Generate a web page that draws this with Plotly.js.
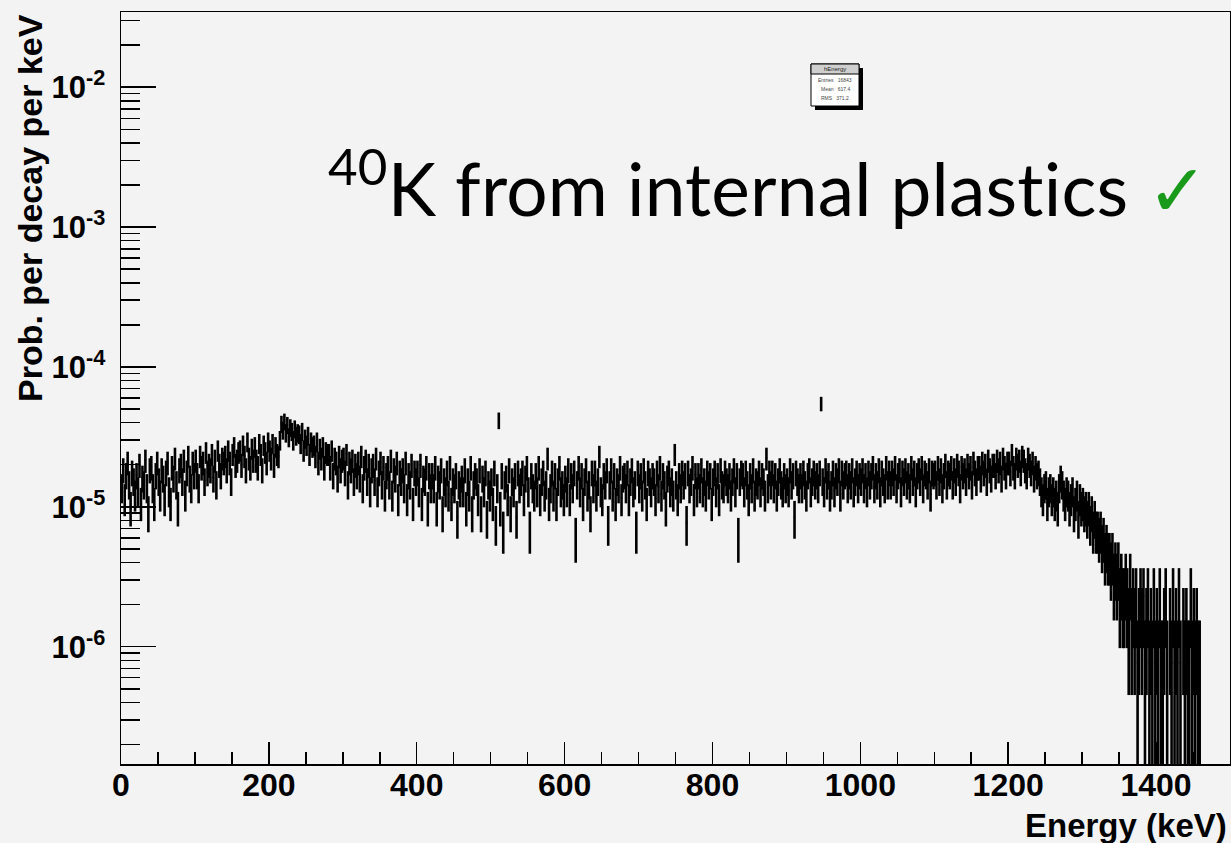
<!DOCTYPE html>
<html><head><meta charset="utf-8">
<script src="https://cdn.plot.ly/plotly-3.0.1.min.js"></script>
<style>html,body{margin:0;padding:0;background:#f3f3f3;} #chart{width:1231px;height:843px;} #chart text, #chart tspan{font-variant-ligatures:none;font-feature-settings:"liga" 0,"clig" 0,"calt" 0,"dlig" 0;}</style>
</head><body><div id="chart"></div>
<script>
// ---------------- data ----------------
const binLowEdgeKeV = 0;
const binWidthKeV = 2;
const probPerCount = 7.7e-7;   // probability per decay per keV represented by one count
const counts = [
18,24,15,22,27,19,13,23,20,16,
22,17,26,14,21,19,28,18,12,24,
25,18,14,22,27,20,16,24,21,15,
23,27,17,14,25,21,29,19,13,24,
26,20,28,16,23,30,21,18,27,22,
28,22,18,30,25,27,20,32,23,26,
24,31,21,28,19,33,26,22,29,27,
30,24,33,27,20,31,35,26,28,32,
33,26,36,30,24,38,29,25,34,28,
35,28,25,37,31,24,36,32,27,38,
33,29,37,26,35,31,30,39,51,46,
53,44,50,41,48,45,39,47,42,44,
43,37,45,33,40,36,42,31,38,35,
36,30,38,27,34,29,35,25,32,31,
31,25,33,22,29,27,21,30,24,28,
29,23,31,19,27,24,28,20,26,22,
27,21,30,18,25,28,20,26,17,24,
26,20,29,17,23,27,19,25,16,22,
25,19,28,16,24,21,27,15,23,20,
24,18,27,15,22,19,26,14,23,20,
23,17,26,14,21,20,25,13,22,18,
22,18,25,13,21,19,24,12,20,17,
23,16,25,14,20,18,22,11,19,17,
21,17,24,13,20,16,25,12,19,22,
20,15,24,12,21,17,23,11,19,16,
20,14,23,10,18,54,13,22,9,19,
21,15,24,12,20,17,22,11,23,18,
20,23,15,21,25,17,9,22,18,16,
22,17,25,15,20,23,16,19,29,14,
18,23,16,22,14,20,25,17,19,15,
21,17,24,15,22,18,23,8,19,25,
17,22,14,20,24,16,19,12,23,18,
23,16,20,30,17,15,22,19,24,10,
19,24,16,22,14,20,18,25,15,21,
22,18,23,15,20,24,17,19,9,23,
18,22,16,24,19,14,23,20,17,22,
20,15,23,18,25,16,22,19,13,21,
23,17,20,16,31,19,15,22,18,23,
19,22,10,23,18,20,25,15,22,17,
22,18,24,17,20,16,23,19,22,14,
20,23,17,22,15,24,19,18,23,20,
18,22,16,20,24,17,22,8,20,23,
22,17,23,19,15,22,18,24,16,20,
19,23,17,22,20,16,29,18,23,19,
23,18,22,16,20,24,19,17,22,18,
20,17,24,19,22,11,23,20,18,22,
18,23,19,16,22,24,17,20,23,19,
22,18,23,71,20,17,24,19,22,16,
19,23,17,22,20,24,16,23,19,22,
23,18,22,19,24,17,20,23,18,22,
20,24,18,22,17,23,19,22,25,18,
22,19,24,17,23,20,18,25,19,23,
19,23,20,25,18,22,24,17,23,20,
24,19,22,18,25,20,23,17,22,24,
20,25,18,23,22,19,24,16,23,22,
23,19,25,20,24,18,22,26,19,23,
22,25,19,24,20,26,23,18,25,22,
24,20,26,22,25,19,27,23,20,25,
25,21,27,23,26,20,28,24,21,26,
26,22,28,24,27,21,29,25,22,27,
27,23,31,25,22,29,26,28,23,30,
28,24,22,29,26,23,27,21,25,22,
23,20,17,15,18,19,14,17,18,15,
17,14,16,13,18,21,19,16,14,17,
16,13,15,17,12,14,16,11,15,13,
14,12,13,11,13,10,12,9,11,9,
9,8,9,7,8,6,7,6,6,5,
6,4,5,4,5,3,4,3,3,4,
3,2,4,2,3,2,3,1,2,3,
2,3,1,2,3,1,2,1,3,1,
2,1,3,1,1,2,3,1,0,2,
1,3,1,2,1,3,1,0,2,1,
2,1,1,3,1,2,1,2,1,1
];
const xMajorTicks = [0,200,400,600,800,1000,1200,1400];
const xMajorLabels = ['0','200','400','600','800','1000','1200','1400'];
const yMajorTicks = [1e-6,1e-5,1e-4,1e-3,1e-2];
const yMajorLabels = ['10<sup>-6</sup>','10<sup>-5</sup>','10<sup>-4</sup>','10<sup>-3</sup>','10<sup>-2</sup>'];
const xTitle = 'Energy (keV)';
const yTitle = 'Prob. per decay per keV';
const noteText = '<span style="letter-spacing:0.2px"><sup>40</sup>K from internal plastics </span><span style="color:#1a9a1a">✓</span>';
const statsTitle = 'hEnergy';
const statsLines = ['Entries   16843','Mean   617.4','RMS   371.2'];

// ---------------- build ----------------
const xs = [], ys = [], errs = [];
counts.forEach((n, i) => {
  xs.push(binLowEdgeKeV + (i + 0.5) * binWidthKeV);
  ys.push(n > 0 ? n * probPerCount : null);
  errs.push(Math.sqrt(n) * probPerCount);
});

const L = 121, T = 12, W = 1109, H = 752;
const px = x => (x - L) / W;
const py = y => (T + H - y) / H;

const yMinor = [];
for (let d = -7; d <= -2; d++) for (let k = 2; k <= 9; k++) yMinor.push(k * Math.pow(10, d));
const xMinor = [];
for (let v = 50; v <= 1450; v += 50) if (v % 200 !== 0) xMinor.push(v);

const bold = {family: 'Liberation Sans, Arial, sans-serif', color: 'black', weight: 'bold'};

const trace = {
  type: 'scatter', mode: 'markers', x: xs, y: ys,
  marker: {size: 1, color: 'black'},
  error_y: {type: 'data', array: errs, symmetric: true, color: 'black', thickness: 2.6, width: 0},
  error_x: {type: 'constant', value: binWidthKeV / 2, color: 'black', thickness: 2.2, width: 0},
  hoverinfo: 'skip'
};

const shapes = [
  {type: 'rect', xref: 'paper', yref: 'paper', x0: px(815), x1: px(863), y0: py(110), y1: py(68), fillcolor: 'black', line: {width: 0}},
  {type: 'rect', xref: 'paper', yref: 'paper', x0: px(811), x1: px(859), y0: py(106), y1: py(64), fillcolor: 'white', line: {color: 'black', width: 1}},
  {type: 'rect', xref: 'paper', yref: 'paper', x0: px(811), x1: px(859), y0: py(74), y1: py(64), fillcolor: '#cfcfcf', line: {color: 'black', width: 1}}
];

const annotations = [
  {text: yTitle, textangle: -90, xref: 'paper', yref: 'paper', x: px(30), y: 1, xanchor: 'center', yanchor: 'top',
   showarrow: false, font: Object.assign({size: 34}, bold)},
  {text: xTitle, xref: 'paper', yref: 'paper', x: px(1229), y: py(825), xanchor: 'right', yanchor: 'middle',
   showarrow: false, font: Object.assign({size: 33}, bold)},
  {text: noteText, xref: 'paper', yref: 'paper', x: px(1210), y: py(184), xanchor: 'right', yanchor: 'middle',
   showarrow: false, font: {family: 'Lato, Open Sans, sans-serif', size: 73, color: 'black'}},
  {text: statsTitle, xref: 'paper', yref: 'paper', x: px(835), y: py(69), xanchor: 'center', yanchor: 'middle',
   showarrow: false, font: {family: 'Liberation Sans', size: 6, color: '#222'}}
];
statsLines.forEach((s, i) => annotations.push({
  text: s, xref: 'paper', yref: 'paper', x: px(835), y: py(80 + i * 9), xanchor: 'center', yanchor: 'middle',
  showarrow: false, font: {family: 'Liberation Sans', size: 5, color: '#444'}
}));

const layout = {
  width: 1231, height: 843,
  paper_bgcolor: '#f3f3f3', plot_bgcolor: '#f3f3f3',
  margin: {l: L, r: 1231 - L - W, t: T, b: 843 - T - H},
  showlegend: false,
  xaxis: {
    range: [0, 1500], showgrid: false, zeroline: false,
    showline: true, linecolor: 'black', linewidth: 1.5, mirror: true,
    ticks: 'inside', ticklen: 22, tickwidth: 1.5, tickcolor: 'black',
    tickmode: 'array', tickvals: xMajorTicks, ticktext: xMajorLabels,
    tickfont: Object.assign({size: 32}, bold), ticklabelstandoff: -8,
    minor: {ticks: 'inside', ticklen: 12, tickwidth: 1.5, tickcolor: 'black', tickmode: 'array', tickvals: xMinor, showgrid: false}
  },
  yaxis: {
    type: 'log', range: [Math.log10(1.45e-7), Math.log10(0.0345)], showgrid: false, zeroline: false,
    showline: true, linecolor: 'black', linewidth: 1.5, mirror: true,
    ticks: 'inside', ticklen: 35, tickwidth: 1.5, tickcolor: 'black',
    tickmode: 'array', tickvals: yMajorTicks, ticktext: yMajorLabels,
    tickfont: Object.assign({size: 31}, bold), ticklabelstandoff: 8,
    minor: {ticks: 'inside', ticklen: 19, tickwidth: 1.5, tickcolor: 'black', tickmode: 'array', tickvals: yMinor, showgrid: false}
  },
  shapes: shapes,
  annotations: annotations
};

Plotly.newPlot('chart', [trace], layout, {displayModeBar: false, staticPlot: true});
</script>
</body></html>
